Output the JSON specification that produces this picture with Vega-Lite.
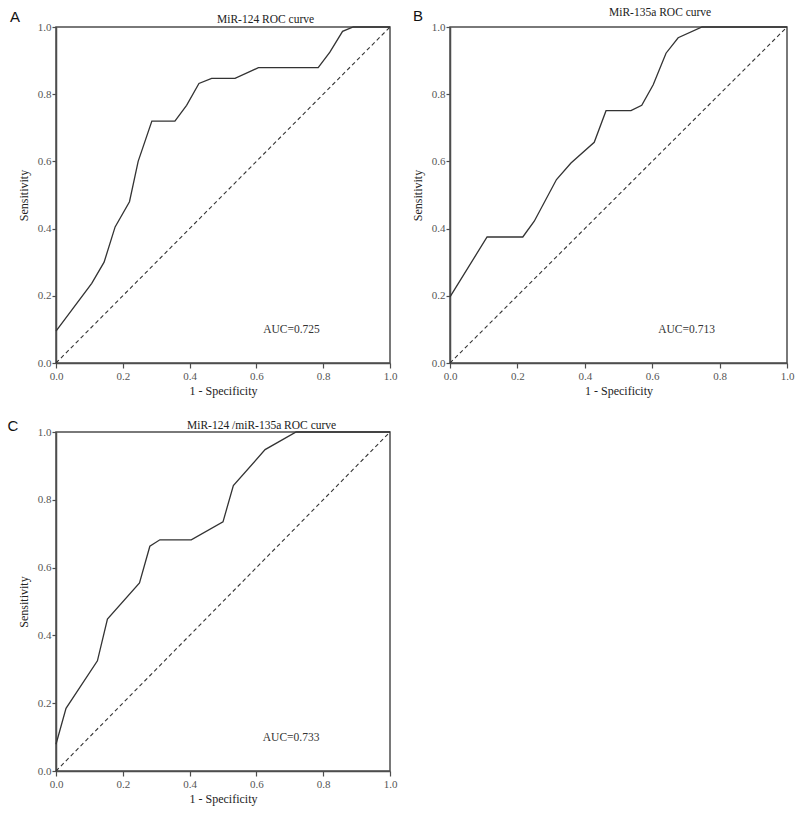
{
  "$schema": "https://vega.github.io/schema/vega-lite/v6.json",
  "padding": {"left": 6, "top": 6, "right": 5, "bottom": 5},
  "background": "white",
  "config": {
    "view": {"stroke": "#4d4d4d", "strokeWidth": 1.5},
    "font": "Liberation Serif",
    "axis": {
      "grid": false,
      "domainColor": "#4d4d4d",
      "domainWidth": 1.5,
      "tickColor": "#4d4d4d",
      "tickWidth": 1.2,
      "tickSize": 4,
      "labelFont": "Liberation Serif",
      "labelFontSize": 11,
      "labelColor": "#555555",
      "titleFont": "Liberation Serif",
      "titleFontSize": 12,
      "titleFontWeight": "normal",
      "titleColor": "#222222",
      "labelFlush": false
    },
    "axisX": {"labelPadding": 2, "titlePadding": 4, "tickSize": 5},
    "axisY": {"labelPadding": 1, "titlePadding": 7},
    "title": {"font": "Liberation Serif", "fontSize": 11.5, "fontWeight": "normal", "color": "#222222", "anchor": "start", "frame": "group"}
  },
  "datasets": {
    "diag": [{"x": 0, "y": 0}, {"x": 1, "y": 1}],
    "rocA": [
      {"x": 0, "y": 0.095}, {"x": 0.107, "y": 0.237}, {"x": 0.144, "y": 0.3}, {"x": 0.177, "y": 0.405},
      {"x": 0.22, "y": 0.48}, {"x": 0.246, "y": 0.6}, {"x": 0.287, "y": 0.72}, {"x": 0.356, "y": 0.72},
      {"x": 0.391, "y": 0.767}, {"x": 0.428, "y": 0.832}, {"x": 0.466, "y": 0.847}, {"x": 0.536, "y": 0.847},
      {"x": 0.606, "y": 0.879}, {"x": 0.785, "y": 0.879}, {"x": 0.82, "y": 0.925}, {"x": 0.858, "y": 0.987},
      {"x": 0.89, "y": 1.0}, {"x": 1, "y": 1.0}
    ],
    "rocB": [
      {"x": 0, "y": 0.197}, {"x": 0.11, "y": 0.375}, {"x": 0.216, "y": 0.375}, {"x": 0.25, "y": 0.422},
      {"x": 0.316, "y": 0.546}, {"x": 0.359, "y": 0.595}, {"x": 0.428, "y": 0.657}, {"x": 0.463, "y": 0.751},
      {"x": 0.537, "y": 0.751}, {"x": 0.569, "y": 0.767}, {"x": 0.603, "y": 0.828}, {"x": 0.641, "y": 0.922},
      {"x": 0.677, "y": 0.968}, {"x": 0.748, "y": 1.0}, {"x": 1, "y": 1.0}
    ],
    "rocC": [
      {"x": 0, "y": 0.079}, {"x": 0.03, "y": 0.185}, {"x": 0.124, "y": 0.325}, {"x": 0.154, "y": 0.448},
      {"x": 0.25, "y": 0.555}, {"x": 0.281, "y": 0.663}, {"x": 0.311, "y": 0.682}, {"x": 0.405, "y": 0.682},
      {"x": 0.5, "y": 0.735}, {"x": 0.531, "y": 0.842}, {"x": 0.626, "y": 0.948}, {"x": 0.719, "y": 1.0},
      {"x": 1, "y": 1.0}
    ]
  },
  "columns": 2,
  "align": "none",
  "spacing": {"column": 12, "row": 21},
  "concat": [
    {
      "width": 334,
      "height": 336,
      "title": {"text": "MiR-124 ROC curve", "dx": 161, "offset": -15.5},
      "layer": [
        {
          "data": {"name": "diag"},
          "mark": {"type": "line", "color": "#333333", "strokeWidth": 1.1, "strokeDash": [4, 3]},
          "encoding": {
            "x": {"field": "x", "type": "quantitative", "scale": {"domain": [0, 1], "nice": false}, "axis": {"title": "1 - Specificity", "values": [0, 0.2, 0.4, 0.6, 0.8, 1], "format": ".1f"}},
            "y": {"field": "y", "type": "quantitative", "scale": {"domain": [0, 1], "nice": false}, "axis": {"title": "Sensitivity", "values": [0, 0.2, 0.4, 0.6, 0.8, 1], "format": ".1f"}}
          }
        },
        {
          "data": {"name": "rocA"},
          "mark": {"type": "line", "color": "#333333", "strokeWidth": 1.3},
          "encoding": {
            "x": {"field": "x", "type": "quantitative"},
            "y": {"field": "y", "type": "quantitative"}
          }
        },
        {
          "data": {"values": [{"x": 0.705, "y": 0.099, "label": "AUC=0.725"}]},
          "mark": {"type": "text", "font": "Liberation Serif", "fontSize": 11.5, "color": "#333333", "align": "center", "baseline": "middle"},
          "encoding": {
            "x": {"field": "x", "type": "quantitative"},
            "y": {"field": "y", "type": "quantitative"},
            "text": {"field": "label"}
          }
        },
        {
          "data": {"values": [{"x": -0.123, "y": 1.03, "label": "A"}]},
          "mark": {"type": "text", "font": "Liberation Sans", "fontSize": 15, "color": "#111111", "align": "center", "baseline": "middle"},
          "encoding": {
            "x": {"field": "x", "type": "quantitative"},
            "y": {"field": "y", "type": "quantitative"},
            "text": {"field": "label"}
          }
        }
      ]
    },
    {
      "width": 337,
      "height": 336,
      "title": {"text": "MiR-135a ROC curve", "dx": 159, "offset": -9.5},
      "layer": [
        {
          "data": {"name": "diag"},
          "mark": {"type": "line", "color": "#333333", "strokeWidth": 1.1, "strokeDash": [4, 3]},
          "encoding": {
            "x": {"field": "x", "type": "quantitative", "scale": {"domain": [0, 1], "nice": false}, "axis": {"title": "1 - Specificity", "values": [0, 0.2, 0.4, 0.6, 0.8, 1], "format": ".1f"}},
            "y": {"field": "y", "type": "quantitative", "scale": {"domain": [0, 1], "nice": false}, "axis": {"title": "Sensitivity", "values": [0, 0.2, 0.4, 0.6, 0.8, 1], "format": ".1f"}}
          }
        },
        {
          "data": {"name": "rocB"},
          "mark": {"type": "line", "color": "#333333", "strokeWidth": 1.3},
          "encoding": {
            "x": {"field": "x", "type": "quantitative"},
            "y": {"field": "y", "type": "quantitative"}
          }
        },
        {
          "data": {"values": [{"x": 0.702, "y": 0.099, "label": "AUC=0.713"}]},
          "mark": {"type": "text", "font": "Liberation Serif", "fontSize": 11.5, "color": "#333333", "align": "center", "baseline": "middle"},
          "encoding": {
            "x": {"field": "x", "type": "quantitative"},
            "y": {"field": "y", "type": "quantitative"},
            "text": {"field": "label"}
          }
        },
        {
          "data": {"values": [{"x": -0.095, "y": 1.033, "label": "B"}]},
          "mark": {"type": "text", "font": "Liberation Sans", "fontSize": 15, "color": "#111111", "align": "center", "baseline": "middle"},
          "encoding": {
            "x": {"field": "x", "type": "quantitative"},
            "y": {"field": "y", "type": "quantitative"},
            "text": {"field": "label"}
          }
        }
      ]
    },
    {
      "width": 334,
      "height": 339,
      "title": {"text": "MiR-124 /miR-135a ROC curve", "dx": 131, "offset": -12.5},
      "layer": [
        {
          "data": {"name": "diag"},
          "mark": {"type": "line", "color": "#333333", "strokeWidth": 1.1, "strokeDash": [4, 3]},
          "encoding": {
            "x": {"field": "x", "type": "quantitative", "scale": {"domain": [0, 1], "nice": false}, "axis": {"title": "1 - Specificity", "values": [0, 0.2, 0.4, 0.6, 0.8, 1], "format": ".1f"}},
            "y": {"field": "y", "type": "quantitative", "scale": {"domain": [0, 1], "nice": false}, "axis": {"title": "Sensitivity", "values": [0, 0.2, 0.4, 0.6, 0.8, 1], "format": ".1f"}}
          }
        },
        {
          "data": {"name": "rocC"},
          "mark": {"type": "line", "color": "#333333", "strokeWidth": 1.3},
          "encoding": {
            "x": {"field": "x", "type": "quantitative"},
            "y": {"field": "y", "type": "quantitative"}
          }
        },
        {
          "data": {"values": [{"x": 0.704, "y": 0.096, "label": "AUC=0.733"}]},
          "mark": {"type": "text", "font": "Liberation Serif", "fontSize": 11.5, "color": "#333333", "align": "center", "baseline": "middle"},
          "encoding": {
            "x": {"field": "x", "type": "quantitative"},
            "y": {"field": "y", "type": "quantitative"},
            "text": {"field": "label"}
          }
        },
        {
          "data": {"values": [{"x": -0.129, "y": 1.018, "label": "C"}]},
          "mark": {"type": "text", "font": "Liberation Sans", "fontSize": 15, "color": "#111111", "align": "center", "baseline": "middle"},
          "encoding": {
            "x": {"field": "x", "type": "quantitative"},
            "y": {"field": "y", "type": "quantitative"},
            "text": {"field": "label"}
          }
        }
      ]
    }
  ]
}
